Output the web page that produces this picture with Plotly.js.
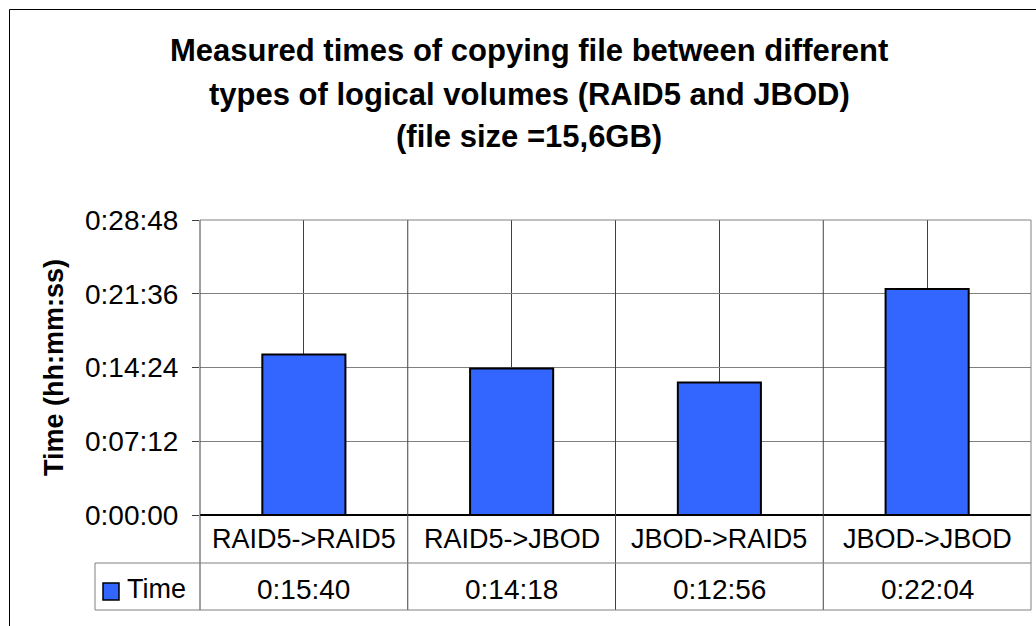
<!DOCTYPE html>
<html>
<head>
<meta charset="utf-8">
<script src="https://cdn.plot.ly/plotly-3.0.1.min.js"></script>
<style>
html,body{margin:0;padding:0;background:#fff;}
#chart{width:1036px;height:626px;}
</style>
</head>
<body>
<div id="chart"></div>
<script>
// Data
const categories = ["RAID5->RAID5", "RAID5->JBOD", "JBOD->RAID5", "JBOD->JBOD"];
const timeLabels = ["0:15:40", "0:14:18", "0:12:56", "0:22:04"];
const timeSeconds = [940, 858, 776, 1324];
const seriesName = "Time";
const yTickVals = [0, 432, 864, 1296, 1728];
const yTickText = ["0:00:00", "0:07:12", "0:14:24", "0:21:36", "0:28:48"];
const titleLines = ["Measured times of copying file between different", "types of logical volumes (RAID5 and JBOD)", "(file size =15,6GB)"];

const FONT = "Arial, 'Liberation Sans', sans-serif";
const BAR = "#3366FF";

// layout geometry (pixels)
const W = 1036, H = 626;
const mL = 200, mR = 5, mT = 220, mB = 111;
const pw = W - mL - mR, ph = H - mT - mB;
const py = px => (H - mB - px) / ph;      // pixel y -> paper y
const pxX = px => (px - mL) / pw;          // pixel x -> paper x

const row1Bottom = py(563), row2Bottom = py(610);
const row1Mid = py(539), row2Mid = py(589);
const legendLeft = pxX(95);

const shapes = [];
const annotations = [];
const tableLine = {color: "#808080", width: 1};
const darkLine = {color: "#404040", width: 1};

// category boundaries (vertical lines through plot and table)
for (let i = 0; i < categories.length - 1; i++) {
  shapes.push({type: "line", xref: "x", yref: "paper", x0: i + 0.5, x1: i + 0.5, y0: row2Bottom, y1: 1, line: darkLine});
}
shapes.push({type: "line", xref: "paper", yref: "paper", x0: 0, x1: 0, y0: row2Bottom, y1: 1, line: darkLine});
shapes.push({type: "line", xref: "paper", yref: "paper", x0: 1, x1: 1, y0: row2Bottom, y1: 1, line: tableLine});
shapes.push({type: "line", xref: "paper", yref: "paper", x0: legendLeft, x1: 1, y0: row1Bottom, y1: row1Bottom, line: tableLine});
shapes.push({type: "line", xref: "paper", yref: "paper", x0: legendLeft, x1: 1, y0: row2Bottom, y1: row2Bottom, line: tableLine});
shapes.push({type: "line", xref: "paper", yref: "paper", x0: legendLeft, x1: legendLeft, y0: row2Bottom, y1: row1Bottom, line: tableLine});
// legend key square
shapes.push({type: "rect", xref: "paper", yref: "paper", x0: pxX(103), x1: pxX(119), y0: py(600), y1: py(583), fillcolor: BAR, line: {color: "#000", width: 1.5}});
// outer chart border (left and top)
shapes.push({type: "line", xref: "paper", yref: "paper", x0: pxX(9.5), x1: pxX(9.5), y0: py(640), y1: py(9.5), line: {color: "#000", width: 1}});
shapes.push({type: "line", xref: "paper", yref: "paper", x0: pxX(9.5), x1: pxX(1050), y0: py(9.5), y1: py(9.5), line: {color: "#000", width: 1}});
// top plot border
shapes.push({type: "line", xref: "paper", yref: "paper", x0: 0, x1: 1, y0: 1, y1: 1, line: tableLine});

categories.forEach((c, i) => {
  annotations.push({xref: "x", yref: "paper", x: c, y: row1Mid, text: c, showarrow: false, yanchor: "middle",
    font: {family: FONT, size: 27, color: "#000"}});
  annotations.push({xref: "x", yref: "paper", x: c, y: row2Mid, text: timeLabels[i], showarrow: false, yanchor: "middle",
    font: {family: FONT, size: 28, color: "#000"}});
});
annotations.push({xref: "paper", yref: "paper", x: pxX(125), y: row2Mid, xanchor: "left", yanchor: "middle", text: seriesName, showarrow: false,
  font: {family: FONT, size: 27, color: "#000"}});
const titleCenters = [51, 94, 136];
titleLines.forEach((t, i) => {
  annotations.push({xref: "paper", yref: "paper", x: pxX(529), y: py(titleCenters[i]), xanchor: "center", yanchor: "middle", showarrow: false,
    text: "<b>" + t + "</b>", font: {family: FONT, size: 31, color: "#000"}});
});

const trace = {
  type: "bar",
  x: categories,
  y: timeSeconds,
  name: seriesName,
  width: 0.4,
  marker: {color: BAR, line: {color: "#000", width: 2}},
  hoverinfo: "none"
};

const layout = {
  width: W, height: H,
  margin: {l: mL, r: mR, t: mT, b: mB, pad: 0},
  paper_bgcolor: "#fff",
  plot_bgcolor: "#fff",
  showlegend: false,
  font: {family: FONT, color: "#000"},
  xaxis: {
    type: "category",
    showticklabels: false,
    showgrid: true,
    gridcolor: "#404040",
    gridwidth: 1,
    ticks: "",
    zeroline: false,
    showline: false,
    range: [-0.5, categories.length - 0.5],
    fixedrange: true
  },
  yaxis: {
    range: [0, 1728],
    tickvals: yTickVals,
    ticktext: yTickText,
    tickfont: {family: FONT, size: 28, color: "#000"},
    ticks: "outside",
    ticklen: 7,
    tickcolor: "#404040",
    showgrid: true,
    gridcolor: "#808080",
    gridwidth: 1,
    zeroline: true,
    zerolinecolor: "#000",
    zerolinewidth: 2,
    showline: false,
    ticklabelstandoff: 8,
    title: {text: "<b>Time (hh:mm:ss)</b>", font: {family: FONT, size: 27, color: "#000"}, standoff: 13},
    fixedrange: true
  },
  shapes: shapes,
  annotations: annotations
};

Plotly.newPlot("chart", [trace], layout, {displayModeBar: false, staticPlot: true});
</script>
</body>
</html>
